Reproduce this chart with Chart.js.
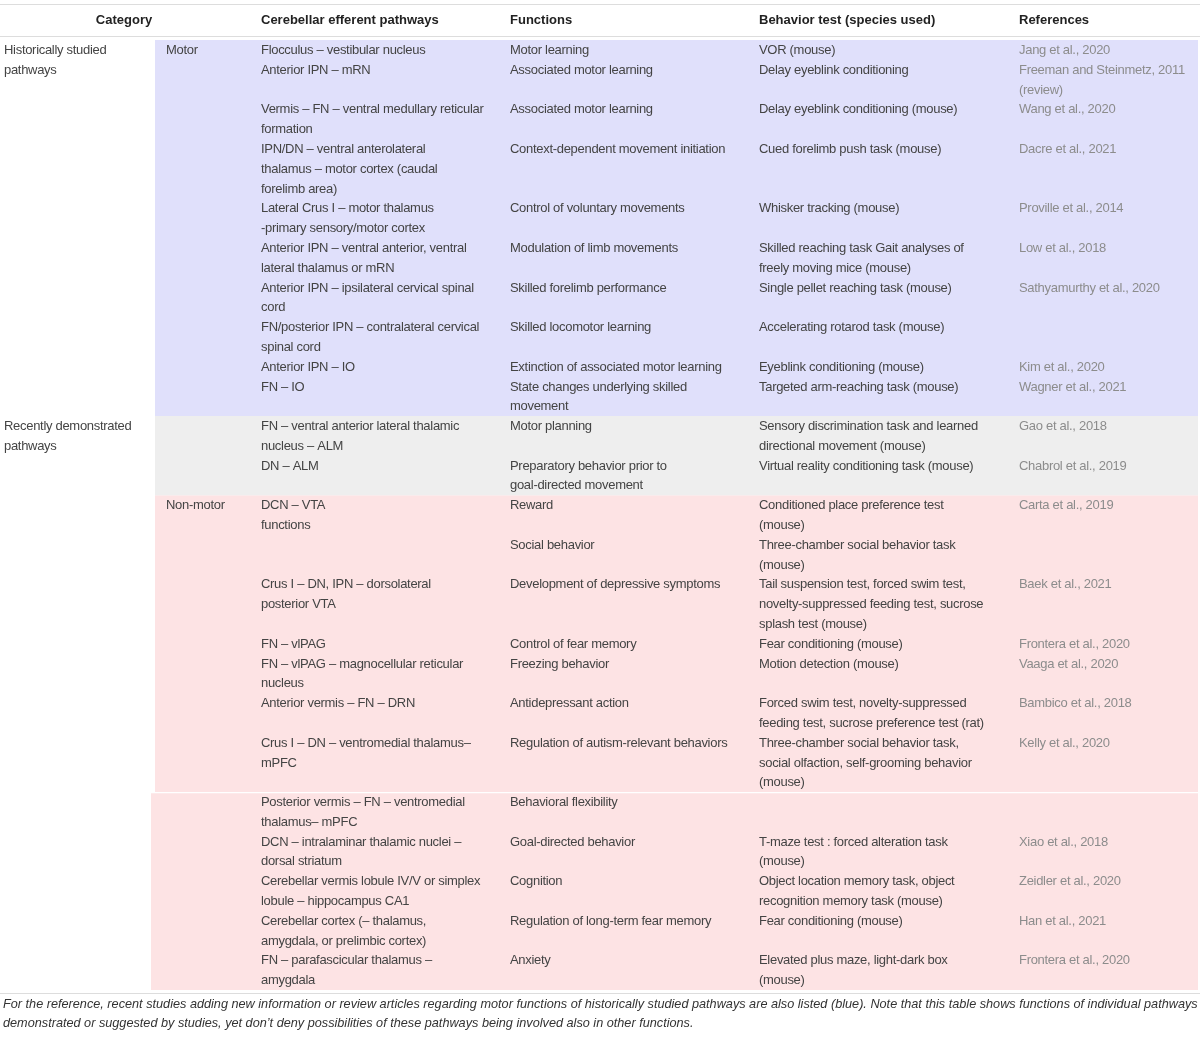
<!DOCTYPE html>
<html>
<head>
<meta charset="utf-8">
<script src="https://cdn.jsdelivr.net/npm/chart.js@4.4.1/dist/chart.umd.min.js"></script>
<style>
  html, body { margin: 0; padding: 0; background: #fff; }
  #wrap { width: 1200px; height: 1040px; position: relative; }
</style>
</head>
<body>
<div id="wrap"><canvas id="table"></canvas></div>
<script>
// rows are text lines of the table body, row 0 = first body line
const headers = ['Category', 'Cerebellar efferent pathways', 'Functions', 'Behavior test (species used)', 'References'];

const categoryCells = [
    [0, 'Historically studied\npathways'],
    [19, 'Recently demonstrated\npathways'],
];

const subCategoryCells = [
    [0, 'Motor'],
    [23, 'Non-motor'],
];

const pathwayCells = [
    [0, 'Flocculus – vestibular nucleus'],
    [1, 'Anterior IPN – mRN'],
    [3, 'Vermis – FN – ventral medullary reticular\nformation'],
    [5, 'IPN/DN – ventral anterolateral\nthalamus – motor cortex (caudal\nforelimb area)'],
    [8, 'Lateral Crus I – motor thalamus\n-primary sensory/motor cortex'],
    [10, 'Anterior IPN – ventral anterior, ventral\nlateral thalamus or mRN'],
    [12, 'Anterior IPN – ipsilateral cervical spinal\ncord'],
    [14, 'FN/posterior IPN – contralateral cervical\nspinal cord'],
    [16, 'Anterior IPN – IO'],
    [17, 'FN – IO'],
    [19, 'FN – ventral anterior lateral thalamic\nnucleus – ALM'],
    [21, 'DN – ALM'],
    [23, 'DCN – VTA\nfunctions'],
    [27, 'Crus I – DN, IPN – dorsolateral\nposterior VTA'],
    [30, 'FN – vlPAG'],
    [31, 'FN – vlPAG – magnocellular reticular\nnucleus'],
    [33, 'Anterior vermis – FN – DRN'],
    [35, 'Crus I – DN – ventromedial thalamus–\nmPFC'],
    [38, 'Posterior vermis – FN – ventromedial\nthalamus– mPFC'],
    [40, 'DCN – intralaminar thalamic nuclei –\ndorsal striatum'],
    [42, 'Cerebellar vermis lobule IV/V or simplex\nlobule – hippocampus CA1'],
    [44, 'Cerebellar cortex (– thalamus,\namygdala, or prelimbic cortex)'],
    [46, 'FN – parafascicular thalamus –\namygdala'],
];

const functionCells = [
    [0, 'Motor learning'],
    [1, 'Associated motor learning'],
    [3, 'Associated motor learning'],
    [5, 'Context-dependent movement initiation'],
    [8, 'Control of voluntary movements'],
    [10, 'Modulation of limb movements'],
    [12, 'Skilled forelimb performance'],
    [14, 'Skilled locomotor learning'],
    [16, 'Extinction of associated motor learning'],
    [17, 'State changes underlying skilled\nmovement'],
    [19, 'Motor planning'],
    [21, 'Preparatory behavior prior to\ngoal-directed movement'],
    [23, 'Reward'],
    [25, 'Social behavior'],
    [27, 'Development of depressive symptoms'],
    [30, 'Control of fear memory'],
    [31, 'Freezing behavior'],
    [33, 'Antidepressant action'],
    [35, 'Regulation of autism-relevant behaviors'],
    [38, 'Behavioral flexibility'],
    [40, 'Goal-directed behavior'],
    [42, 'Cognition'],
    [44, 'Regulation of long-term fear memory'],
    [46, 'Anxiety'],
];

const behaviorCells = [
    [0, 'VOR (mouse)'],
    [1, 'Delay eyeblink conditioning'],
    [3, 'Delay eyeblink conditioning (mouse)'],
    [5, 'Cued forelimb push task (mouse)'],
    [8, 'Whisker tracking (mouse)'],
    [10, 'Skilled reaching task Gait analyses of\nfreely moving mice (mouse)'],
    [12, 'Single pellet reaching task (mouse)'],
    [14, 'Accelerating rotarod task (mouse)'],
    [16, 'Eyeblink conditioning (mouse)'],
    [17, 'Targeted arm-reaching task (mouse)'],
    [19, 'Sensory discrimination task and learned\ndirectional movement (mouse)'],
    [21, 'Virtual reality conditioning task (mouse)'],
    [23, 'Conditioned place preference test\n(mouse)'],
    [25, 'Three-chamber social behavior task\n(mouse)'],
    [27, 'Tail suspension test, forced swim test,\nnovelty-suppressed feeding test, sucrose\nsplash test (mouse)'],
    [30, 'Fear conditioning (mouse)'],
    [31, 'Motion detection (mouse)'],
    [33, 'Forced swim test, novelty-suppressed\nfeeding test, sucrose preference test (rat)'],
    [35, 'Three-chamber social behavior task,\nsocial olfaction, self-grooming behavior\n(mouse)'],
    [40, 'T-maze test : forced alteration task\n(mouse)'],
    [42, 'Object location memory task, object\nrecognition memory task (mouse)'],
    [44, 'Fear conditioning (mouse)'],
    [46, 'Elevated plus maze, light-dark box\n(mouse)'],
];

const referenceCells = [
    [0, 'Jang et al., 2020'],
    [1, 'Freeman and Steinmetz, 2011\n(review)'],
    [3, 'Wang et al., 2020'],
    [5, 'Dacre et al., 2021'],
    [8, 'Proville et al., 2014'],
    [10, 'Low et al., 2018'],
    [12, 'Sathyamurthy et al., 2020'],
    [16, 'Kim et al., 2020'],
    [17, 'Wagner et al., 2021'],
    [19, 'Gao et al., 2018'],
    [21, 'Chabrol et al., 2019'],
    [23, 'Carta et al., 2019'],
    [27, 'Baek et al., 2021'],
    [30, 'Frontera et al., 2020'],
    [31, 'Vaaga et al., 2020'],
    [33, 'Bambico et al., 2018'],
    [35, 'Kelly et al., 2020'],
    [40, 'Xiao et al., 2018'],
    [42, 'Zeidler et al., 2020'],
    [44, 'Han et al., 2021'],
    [46, 'Frontera et al., 2020'],
];

// shaded groups: first row, row after last
const bandStart = [0, 19, 23, 38];
const bandEnd = [19, 23, 38, 48];
const bandColors = ['#e0e0fb', '#eeeeee', '#fde3e4', '#fde3e4'];

const footnote = [
    'For the reference, recent studies adding new information or review articles regarding motor functions of historically studied pathways are also listed (blue). Note that this table shows functions of individual pathways',
    'demonstrated or suggested by studies, yet don\u2019t deny possibilities of these pathways being involved also in other functions.',
];

// layout (pixel-like x units, row units on y)
const colX = [4, 166, 261, 510, 759, 1019];
const bandLeft = [155, 155, 155, 151];
const bandRight = 1198;
const rowPx = 19.79;
const bodyTopPx = 40.1;
const H = 1040;
const yMin = -bodyTopPx / rowPx;
const yMax = yMin + H / rowPx;
const pxToRow = (px) => (px - bodyTopPx) / rowPx;

const FONT = '13px "Liberation Sans", Arial, sans-serif';
const BOLD = 'bold 13px "Liberation Sans", Arial, sans-serif';
const ITALIC = 'italic 12.7px "Liberation Sans", Arial, sans-serif';

const datasets = [];
bandStart.forEach((start, i) => {
    const top = start + (i === 3 ? 0.06 : 0);
    datasets.push({
        data: [{ x: bandLeft[i], y: top }, { x: bandRight, y: top }],
        showLine: true,
        fill: { value: bandEnd[i] },
        backgroundColor: bandColors[i],
        borderWidth: 0,
        pointRadius: 0,
    });
});
[pxToRow(4.5), pxToRow(36.5), pxToRow(993.5)].forEach(r => {
    datasets.push({
        data: [{ x: 0, y: r }, { x: 1200, y: r }],
        showLine: true,
        fill: false,
        borderColor: '#dddddd',
        borderWidth: 1,
        pointRadius: 0,
    });
});

const cellColumns = [
    { cells: categoryCells, col: 0, color: '#444' },
    { cells: subCategoryCells, col: 1, color: '#444' },
    { cells: pathwayCells, col: 2, color: '#444' },
    { cells: functionCells, col: 3, color: '#444' },
    { cells: behaviorCells, col: 4, color: '#444' },
    { cells: referenceCells, col: 5, color: '#8c8c8c' },
];

const tableText = {
    id: 'tableText',
    afterDatasetsDraw(chart) {
        const { ctx, scales: { x, y } } = chart;
        ctx.save();
        ctx.textBaseline = 'middle';

        // header
        ctx.font = BOLD;
        ctx.fillStyle = '#222';
        const hy = y.getPixelForValue(pxToRow(20));
        ctx.textAlign = 'center';
        ctx.fillText(headers[0], x.getPixelForValue(124), hy);
        ctx.textAlign = 'left';
        headers.slice(1).forEach((h, i) => ctx.fillText(h, x.getPixelForValue(colX[i + 2]), hy));

        // body, slightly tightened to match the narrow light face
        ctx.font = FONT;
        if ('letterSpacing' in ctx) ctx.letterSpacing = '-0.3px';
        cellColumns.forEach(({ cells, col, color }) => {
            ctx.fillStyle = color;
            cells.forEach(([row, text]) => {
                text.split('\n').forEach((line, k) => {
                    ctx.fillText(line, x.getPixelForValue(colX[col]), y.getPixelForValue(row + k + 0.5) + 0.5);
                });
            });
        });
        if ('letterSpacing' in ctx) ctx.letterSpacing = '0px';

        // footnote
        ctx.font = ITALIC;
        ctx.fillStyle = '#333';
        footnote.forEach((line, k) => {
            ctx.fillText(line, x.getPixelForValue(3), y.getPixelForValue(pxToRow(1004 + k * 19)));
        });
        ctx.restore();
    }
};

new Chart(document.getElementById('table'), {
    type: 'scatter',
    data: { datasets },
    options: {
        responsive: true,
        maintainAspectRatio: false,
        animation: false,
        layout: { padding: 0 },
        scales: {
            x: { type: 'linear', min: 0, max: 1200, display: false },
            y: { type: 'linear', min: yMin, max: yMax, reverse: true, display: false },
        },
        plugins: {
            legend: { display: false },
            tooltip: { enabled: false },
        },
        elements: { line: { tension: 0 } },
        datasets: { scatter: { clip: false } },
    },
    plugins: [tableText],
});
</script>
</body>
</html>
